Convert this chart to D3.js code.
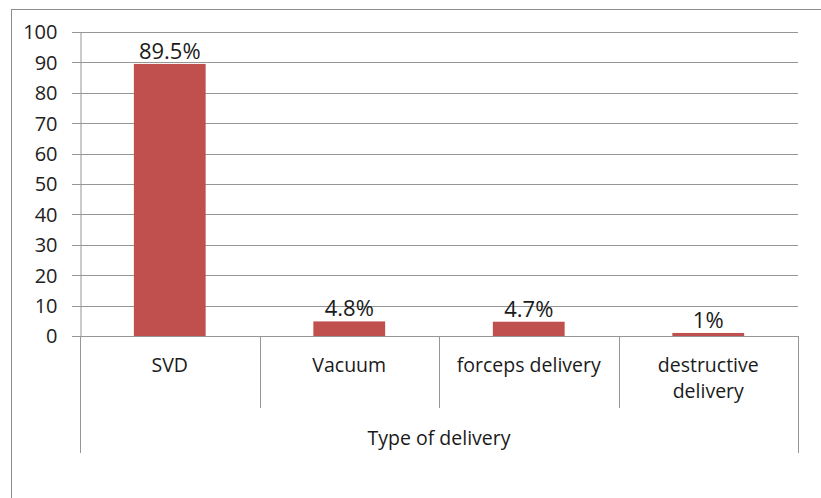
<!DOCTYPE html>
<html>
<head>
<meta charset="utf-8">
<script src="https://cdn.jsdelivr.net/npm/d3@7"></script>
<style>
  body { margin: 0; background: #fff; }
  text { font-family: "Open Sans", sans-serif; fill: #1a1a1a; }
</style>
</head>
<body>
<div id="chart"></div>
<script>
// DATA
const categories = ['SVD', 'Vacuum', 'forceps delivery', 'destructive delivery'];
const values = [89.5, 4.8, 4.7, 1];
const valueLabels = ['89.5%', '4.8%', '4.7%', '1%'];
const yTicks = [0, 10, 20, 30, 40, 50, 60, 70, 80, 90, 100];
const axisTitle = 'Type of delivery';

// DIMENSIONS
const width = 821, height = 498;
const plotLeft = 80, plotRight = 798, plotTop = 32, plotBottom = 336;
const grey = '#969696';

const svg = d3.select('#chart')
  .append('svg')
  .attr('width', width)
  .attr('height', height);

// OUTER BORDER
svg.append('rect')
  .attr('x', 11.5).attr('y', 9.5)
  .attr('width', 830).attr('height', 520)
  .attr('fill', 'none')
  .attr('stroke', '#8c8c8c');

// SCALES
const xScale = d3.scaleBand()
  .domain(categories)
  .range([plotLeft, plotRight])
  .padding(0);

const yScale = d3.scaleLinear()
  .domain([0, 100])
  .range([plotBottom, plotTop]);

// GRIDLINES
svg.append('g')
  .selectAll('line')
  .data(yTicks)
  .enter()
  .append('line')
  .attr('x1', plotLeft - 8)
  .attr('x2', plotRight)
  .attr('y1', d => Math.round(yScale(d)) + 0.5)
  .attr('y2', d => Math.round(yScale(d)) + 0.5)
  .attr('stroke', grey);

// Y AXIS
const yAxis = svg.append('g')
  .attr('transform', `translate(${plotLeft + 0.5},0)`)
  .call(d3.axisLeft(yScale).tickValues(yTicks).tickSize(0).tickPadding(23));
yAxis.select('.domain').attr('stroke', grey);
yAxis.selectAll('text')
  .style('font-size', '20px')
  .style('fill', '#222')
  .attr('dy', '0.34em');

// BARS
const barW = xScale.bandwidth() * 0.4;
svg.append('g')
  .selectAll('rect')
  .data(values)
  .enter()
  .append('rect')
  .attr('x', (d, i) => xScale(categories[i]) + xScale.bandwidth() / 2 - barW / 2)
  .attr('y', d => yScale(d))
  .attr('width', barW)
  .attr('height', d => yScale(0) - yScale(d))
  .attr('fill', '#C0504D');

// BAR LABELS
svg.append('g')
  .selectAll('text')
  .data(values)
  .enter()
  .append('text')
  .attr('x', (d, i) => xScale(categories[i]) + xScale.bandwidth() / 2)
  .attr('y', d => yScale(d) - 5)
  .attr('text-anchor', 'middle')
  .style('font-size', '22px')
  .text((d, i) => valueLabels[i]);

// CATEGORY DIVIDERS
const edges = categories.map(c => xScale(c)).concat([plotRight]);
svg.append('g')
  .selectAll('line')
  .data(edges)
  .enter()
  .append('line')
  .attr('x1', d => Math.round(d) + 0.5)
  .attr('x2', d => Math.round(d) + 0.5)
  .attr('y1', plotBottom)
  .attr('y2', (d, i) => (i === 0 || i === edges.length - 1) ? 453 : 408)
  .attr('stroke', grey);

// CATEGORY LABELS
svg.append('g')
  .selectAll('text')
  .data(categories)
  .enter()
  .append('text')
  .attr('text-anchor', 'middle')
  .style('font-size', '19.5px')
  .each(function (d) {
    const cx = xScale(d) + xScale.bandwidth() / 2;
    const lines = d === 'destructive delivery' ? ['destructive', 'delivery'] : [d];
    d3.select(this).selectAll('tspan')
      .data(lines)
      .enter()
      .append('tspan')
      .attr('x', cx)
      .attr('y', (l, j) => 372 + j * 26)
      .text(l => l);
  });

// AXIS TITLE
svg.append('text')
  .attr('x', (plotLeft + plotRight) / 2)
  .attr('y', 445)
  .attr('text-anchor', 'middle')
  .style('font-size', '19.5px')
  .text(axisTitle);
</script>
</body>
</html>
